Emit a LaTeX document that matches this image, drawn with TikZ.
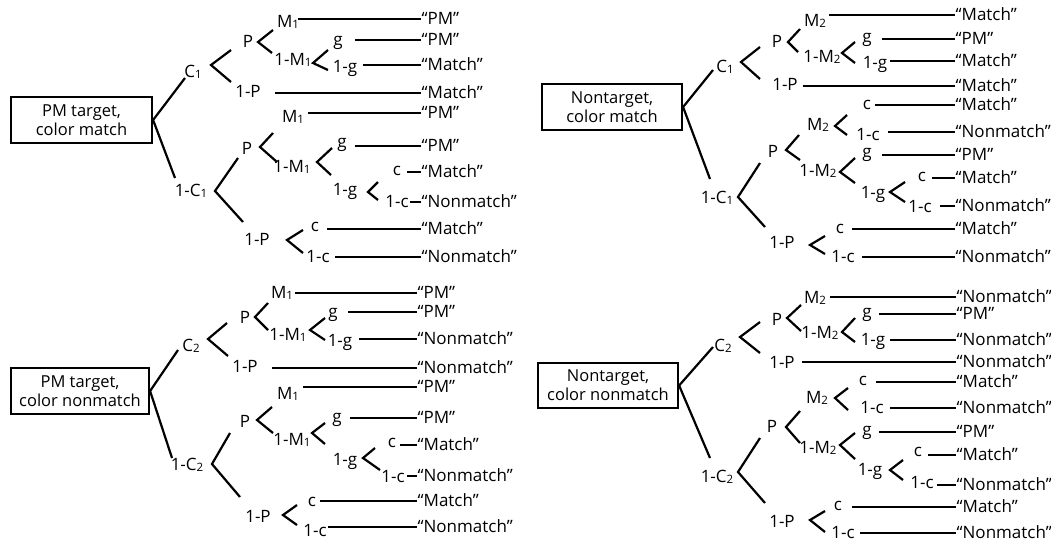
\documentclass[tikz,border=0pt]{standalone}
\usepackage{fontspec}
\setmainfont{Open Sans}
\newcommand\sbs[1]{{\fontsize{11.5}{11.5}\selectfont\raisebox{-1pt}{#1}}}
\newcommand\mklab[3]{\node[lbl] (#1) at (#2) {#3};}
\newcommand\mkfork[4]{\coordinate (#1v) at (#2);\coordinate (#1u) at (#3);\coordinate (#1l) at (#4);\draw[ln] (#1u) -- (#1v) -- (#1l);}
\newcommand\mkleaf[4]{\node[outc] (#1) at (\outx,#3) {#4};\coordinate (#1s) at (#2,#3);\draw[ln] (#1s) -- (#1.west);}
\tikzset{
  ln/.style={line width=2.2pt},
  lbl/.style={inner sep=0pt, text height=11.5pt, text depth=0pt, font=\fontsize{17}{19}\selectfont},
  outc/.style={inner sep=0.5pt, text height=11.5pt, text depth=0pt, anchor=west, font=\fontsize{17}{19}\selectfont},
  boxn/.style={draw, line width=2.2pt, minimum width=140pt, minimum height=46pt, inner sep=0pt, align=center, font=\fontsize{16.5}{19}\selectfont}
}
\begin{document}
\begin{tikzpicture}[x=1pt,y=-1pt]
\useasboundingbox (0,0) rectangle (1051,542);
% ===== Quadrant A: PM target, color match =====
\def\outx{421}
\node[boxn, minimum width=141pt] (a0) at (81.5,120) {PM target,\\color match};
\coordinate (a0u) at (185,78); \coordinate (a0l) at (175,178);
\draw[ln] (a0u) -- (a0.east) -- (a0l);
\mklab{aC}{193,72}{C\sbs{1}}
\mklab{anC}{191,191}{1-C\sbs{1}}
\mkfork{afC}{211,65}{231,50}{231,82}
\mklab{aP}{248,42}{P}
\mklab{anP}{248,92}{1-P}
\mkfork{afP}{258,42}{273,30}{272,53}
\mklab{aM}{288,22}{M\sbs{1}}
\mklab{anM}{293,60}{1-M\sbs{1}}
\mkleaf{ao1}{298}{19}{“PM”}
\mkfork{afM}{313,63}{328,50}{328,70}
\mklab{ag}{338,40}{g}
\mklab{ang}{345,67}{1-g}
\mkleaf{ao2}{355}{40}{“PM”}
\mkleaf{ao3}{363}{65}{“Match”}
\mkleaf{ao4}{275}{93}{“Match”}
\mklab{aM2}{293,117}{M\sbs{1}}
\mkleaf{ao5}{308}{113}{“PM”}
\mkfork{afnC}{215,191}{238,158}{243,222}
\mklab{aP2}{247,149}{P}
\mklab{anP2}{257,240}{1-P}
\mkfork{afP2}{260,147}{273,133}{277,162}
\mklab{anM2}{292,167}{1-M\sbs{1}}
\mkfork{afM2}{317,162}{332,148}{331,175}
\mklab{ag2}{342,142}{g}
\mkleaf{ao6}{355}{146}{“PM”}
\mklab{ang2}{345,190}{1-g}
\mkfork{afg2}{368,192}{378,182}{378,200}
\mklab{ac}{397,170}{c}
\mkleaf{ao7}{407}{172}{“Match”}
\mklab{anc}{397,202}{1-c}
\mkleaf{ao8}{410}{202}{“Nonmatch”}
\mkfork{afnP2}{287,240}{303,230}{303,253}
\mklab{ac2}{315,226}{c}
\mkleaf{ao9}{327}{229}{“Match”}
\mklab{anc2}{318,257}{1-c}
\mkleaf{ao10}{335}{257}{“Nonmatch”}
% ===== Quadrant B: PM target, color nonmatch =====
\def\outx{417}
\node[boxn, minimum width=138pt] (b0) at (80,391) {PM target,\\color nonmatch};
\coordinate (b0u) at (178,350); \coordinate (b0l) at (172,458);
\draw[ln] (b0u) -- (b0.east) -- (b0l);
\mklab{bC}{191,346}{C\sbs{2}}
\mklab{bnC}{187,465}{1-C\sbs{2}}
\mkfork{bfC}{208,339}{227,323}{228,356}
\mklab{bP}{245,318}{P}
\mklab{bnP}{245,367}{1-P}
\mkfork{bfP}{255,317}{268,303}{268,330}
\mklab{bM}{282,293}{M\sbs{1}}
\mkleaf{bo1}{295}{293}{“PM”}
\mklab{bnM}{288,335}{1-M\sbs{1}}
\mkfork{bfM}{310,330}{325,318}{325,340}
\mklab{bg}{333,312}{g}
\mkleaf{bo2}{348}{312}{“PM”}
\mklab{bng}{340,341}{1-g}
\mkleaf{bo3}{359}{339}{“Nonmatch”}
\mkleaf{bo4}{272}{368}{“Nonmatch”}
\mklab{bM2}{288,394}{M\sbs{1}}
\mkleaf{bo5}{303}{387}{“PM”}
\mkfork{bfnC}{212,464}{230,433}{240,497}
\mklab{bP2}{245,422}{P}
\mklab{bnP2}{258,517}{1-P}
\mkfork{bfP2}{257,420}{272,407}{273,433}
\mklab{bnM2}{292,440}{1-M\sbs{1}}
\mkfork{bfM2}{312,433}{325,423}{325,444}
\mklab{bg2}{337,417}{g}
\mkleaf{bo6}{350}{418}{“PM”}
\mklab{bng2}{345,460}{1-g}
\mkfork{bfg2}{363,458}{375,448}{380,470}
\mklab{bc}{392,441.5}{c}
\mkleaf{bo7}{400}{445}{“Match”}
\mklab{bnc}{393,477}{1-c}
\mkleaf{bo8}{407}{476}{“Nonmatch”}
\mkfork{bfnP2}{283,515}{297,505}{297,525}
\mklab{bc2}{312,500.5}{c}
\mkleaf{bo9}{320}{501}{“Match”}
\mklab{bnc2}{315,531}{1-c}
\mkleaf{bo10}{328}{527}{“Nonmatch”}
% ===== Quadrant C: Nontarget, color match =====
\def\outx{955}
\node[boxn] (c0) at (612,107) {Nontarget,\\color match};
\coordinate (c0u) at (713,70); \coordinate (c0l) at (710,179);
\draw[ln] (c0u) -- (c0.east) -- (c0l);
\mklab{cC}{725,67}{C\sbs{1}}
\mklab{cnC}{717,198}{1-C\sbs{1}}
\mkfork{cfC}{741,62}{760,47}{760,79}
\mklab{cP}{777,42}{P}
\mklab{cnP}{785,85}{1-P}
\mkfork{cfP}{788,42}{800,29}{798,52}
\mklab{cM}{815,21}{M\sbs{2}}
\mkleaf{co1}{829}{15}{“Match”}
\mklab{cnM}{822,57}{1-M\sbs{2}}
\mkfork{cfM}{842,53}{855,42}{855,63}
\mklab{cg}{867,37}{g}
\mkleaf{co2}{882}{39}{“PM”}
\mklab{cng}{875,63}{1-g}
\mkleaf{co3}{890}{61}{“Match”}
\mkleaf{co4}{803}{86}{“Match”}
\mklab{cc}{867,103.5}{c}
\mkleaf{co5}{875}{105}{“Match”}
\mklab{cM2}{818,125}{M\sbs{2}}
\mkfork{cfM2}{835,126}{847,115}{847,135}
\mklab{cnc}{868,135}{1-c}
\mkleaf{co6}{888}{132}{“Nonmatch”}
\mkfork{cfnC}{738,197}{760,163}{765,227}
\mklab{cP2}{773,152}{P}
\mklab{cnP2}{782,243}{1-P}
\mkfork{cfP2}{786,150}{799,135}{800,160}
\mklab{cnM2}{818,171}{1-M\sbs{2}}
\mkfork{cfM3}{840,172}{855,158}{855,183}
\mklab{cg2}{867,152}{g}
\mkleaf{co7}{882}{155}{“PM”}
\mklab{cng2}{873,193}{1-g}
\mkfork{cfg2}{890,192}{905,182}{905,202}
\mklab{cc2}{922,176}{c}
\mkleaf{co8}{932}{178}{“Match”}
\mklab{cnc2}{920,207}{1-c}
\mkleaf{co9}{940}{206}{“Nonmatch”}
\mkfork{cfnP2}{810,245}{825,236}{825,254}
\mklab{cc3}{840,228}{c}
\mkleaf{co10}{852}{229}{“Match”}
\mklab{cnc3}{843,257}{1-c}
\mkleaf{co11}{862}{257}{“Nonmatch”}
% ===== Quadrant D: Nontarget, color nonmatch =====
\def\outx{956}
\node[boxn, minimum height=45pt] (d0) at (608,385.5) {Nontarget,\\color nonmatch};
\coordinate (d0u) at (713,347); \coordinate (d0l) at (710,458);
\draw[ln] (d0u) -- (d0.east) -- (d0l);
\mklab{dC}{723,346}{C\sbs{2}}
\mklab{dnC}{717,477}{1-C\sbs{2}}
\mkfork{dfC}{740,337}{760,322}{760,353}
\mklab{dP}{777,320}{P}
\mklab{dnP}{782,363}{1-P}
\mkfork{dfP}{787,318}{801,305}{801,331}
\mklab{dM}{815,298}{M\sbs{2}}
\mkleaf{do1}{830}{297}{“Nonmatch”}
\mklab{dnM}{820,333}{1-M\sbs{2}}
\mkfork{dfM}{842,332}{855,318}{855,342}
\mklab{dg}{867,312}{g}
\mkleaf{do2}{879}{314}{“PM”}
\mklab{dng}{873,340}{1-g}
\mkleaf{do3}{890}{340}{“Nonmatch”}
\mkleaf{do4}{802}{362}{“Nonmatch”}
\mklab{dc}{863,380}{c}
\mkleaf{do5}{876}{382}{“Match”}
\mklab{dM2}{817,398}{M\sbs{2}}
\mkfork{dfM2}{835,398}{848,388}{848,410}
\mklab{dnc}{872,408}{1-c}
\mkleaf{do6}{890}{408}{“Nonmatch”}
\mkfork{dfnC}{738,472}{760,438}{765,503}
\mklab{dP2}{772,427}{P}
\mklab{dnP2}{782,522}{1-P}
\mkfork{dfP2}{786,427}{800,411}{800,443}
\mklab{dnM2}{818,448}{1-M\sbs{2}}
\mkfork{dfM3}{840,445}{855,433}{855,459}
\mklab{dg2}{867,430}{g}
\mkleaf{do7}{879}{432}{“PM”}
\mklab{dng2}{870,470}{1-g}
\mkfork{dfg2}{890,470}{903,460}{903,480}
\mklab{dc2}{918,451}{c}
\mkleaf{do8}{928}{455}{“Match”}
\mklab{dnc2}{922,483}{1-c}
\mkleaf{do9}{937}{485}{“Nonmatch”}
\mkfork{dfnP2}{810,520}{825,511}{825,532}
\mklab{dc3}{838,505}{c}
\mkleaf{do10}{852}{507}{“Match”}
\mklab{dnc3}{843,533}{1-c}
\mkleaf{do11}{860}{533}{“Nonmatch”}
\end{tikzpicture}
\end{document}
